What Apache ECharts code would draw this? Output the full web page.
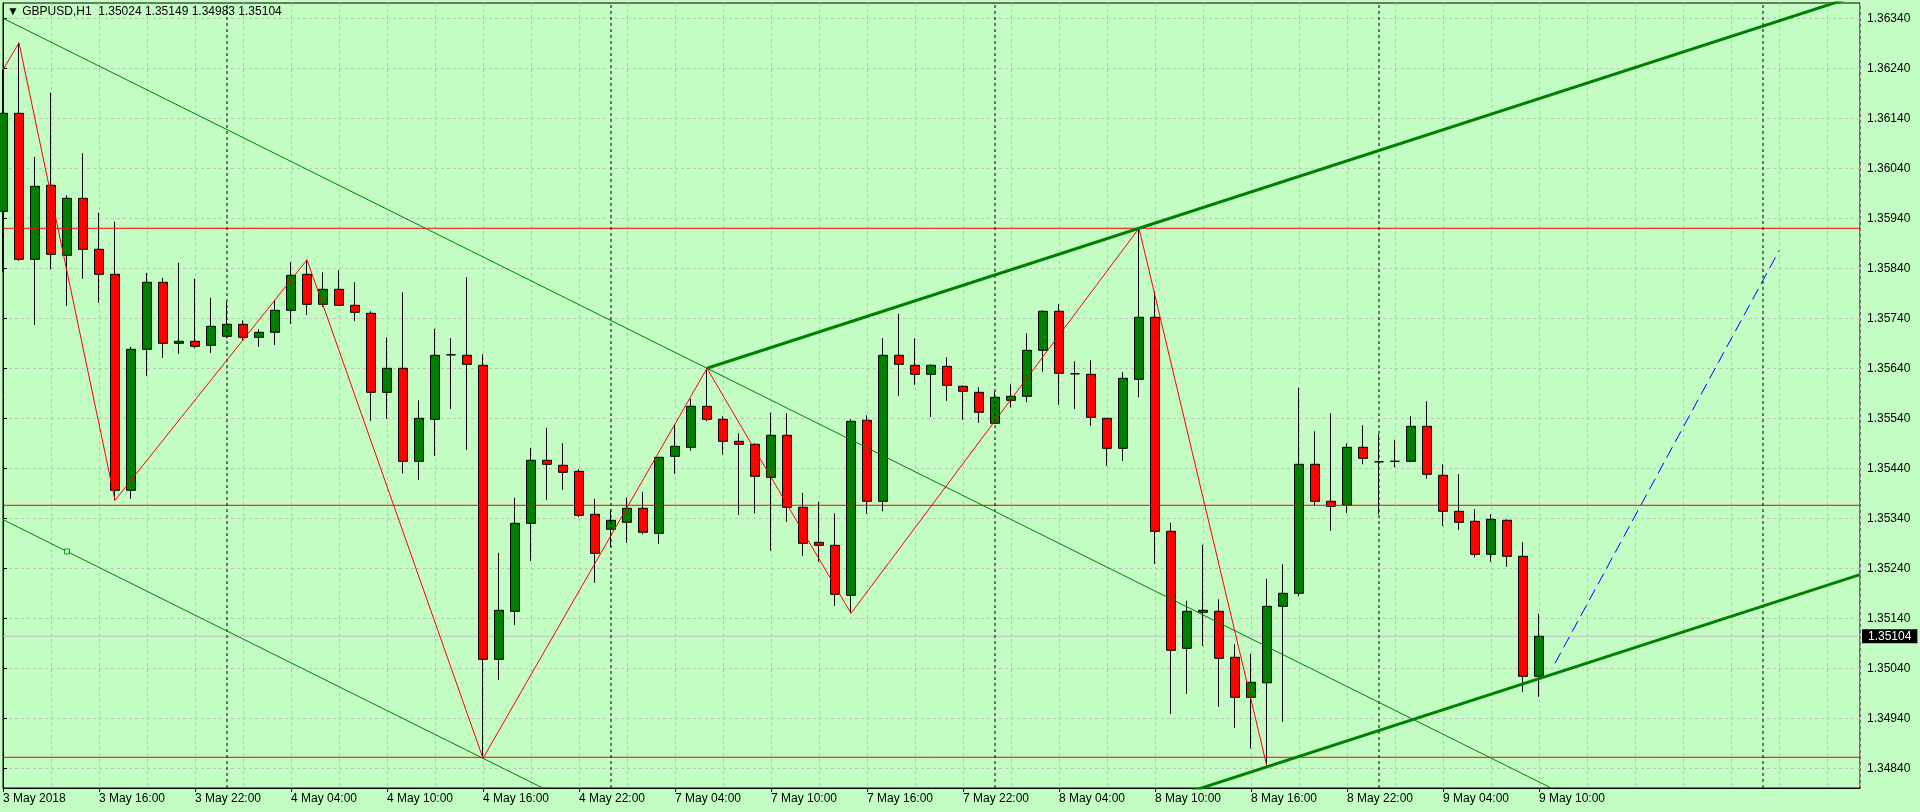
<!DOCTYPE html>
<html>
<head>
<meta charset="utf-8">
<script src="https://cdn.jsdelivr.net/npm/echarts@6/dist/echarts.min.js"></script>
<style>
html,body{margin:0;padding:0;background:#c4fdc4;}
#chart{width:1920px;height:812px;}
</style>
</head>
<body>
<div id="chart"></div>
<script>
// ---------------- DATA ----------------
const symbolName = 'GBPUSD,H1';

const barOpen = [1.35954,1.36150,1.35858,1.36006,1.35866,1.35980,1.35878,1.35828,1.35396,1.35678,
1.35812,1.35690,1.35694,1.35686,1.35704,1.35728,1.35702,1.35712,1.35756,1.35828,
1.35768,1.35798,1.35766,1.35750,1.35592,1.35640,1.35454,1.35538,1.35667,1.35666,
1.35646,1.35058,1.35154,1.35330,1.35456,1.35446,1.35434,1.35348,1.35318,1.35332,
1.35360,1.35310,1.35464,1.35482,1.35564,1.35538,1.35494,1.35488,1.35422,1.35506,
1.35362,1.35292,1.35286,1.35186,1.35536,1.35374,1.35666,1.35646,1.35628,1.35644,
1.35604,1.35592,1.35530,1.35576,1.35584,1.35676,1.35754,1.35629,1.35628,1.35540,
1.35480,1.35618,1.35742,1.35314,1.35080,1.35152,1.35154,1.35062,1.34982,1.35011,
1.35164,1.35190,1.35448,1.35374,1.35366,1.35482,1.35453,1.35454,1.35454,1.35524,
1.35426,1.35354,1.35334,1.35268,1.35336,1.35264,1.35024];

const barHigh = [1.36237,1.36291,1.36063,1.36191,1.35986,1.36070,1.35951,1.35933,1.35683,1.35831,
1.35821,1.35851,1.35819,1.35781,1.35773,1.35736,1.35718,1.35777,1.35852,1.35857,
1.35832,1.35836,1.35812,1.35754,1.35702,1.35792,1.35576,1.35719,1.35700,1.35822,
1.35668,1.35271,1.35381,1.35481,1.35521,1.35490,1.35438,1.35379,1.35357,1.35381,
1.35393,1.35462,1.35527,1.35579,1.35640,1.35544,1.35510,1.35490,1.35551,1.35550,
1.35391,1.35373,1.35350,1.35538,1.35546,1.35700,1.35749,1.35700,1.35648,1.35662,
1.35606,1.35602,1.35594,1.35608,1.35710,1.35756,1.35768,1.35654,1.35656,1.35540,
1.35632,1.35920,1.35794,1.35331,1.35175,1.35287,1.35178,1.35088,1.35069,1.35219,
1.35248,1.35601,1.35514,1.35550,1.35490,1.35526,1.35508,1.35497,1.35544,1.35574,
1.35448,1.35428,1.35358,1.35348,1.35338,1.35292,1.35149];

const barLow = [1.35833,1.35855,1.35727,1.35838,1.35765,1.35819,1.35771,1.35376,1.35379,1.35625,
1.35661,1.35669,1.35680,1.35671,1.35700,1.35696,1.35683,1.35687,1.35729,1.35747,
1.35763,1.35766,1.35735,1.35535,1.35539,1.35430,1.35417,1.35465,1.35559,1.35477,
1.34860,1.35017,1.35127,1.35255,1.35377,1.35397,1.35342,1.35211,1.35283,1.35291,
1.35308,1.35289,1.35429,1.35475,1.35534,1.35468,1.35347,1.35350,1.35275,1.35333,
1.35265,1.35253,1.35165,1.35150,1.35349,1.35354,1.35585,1.35607,1.35543,1.35575,
1.35537,1.35531,1.35530,1.35562,1.35572,1.35633,1.35567,1.35559,1.35525,1.35445,
1.35455,1.35582,1.35249,1.34949,1.34989,1.35085,1.34963,1.34921,1.34880,1.34843,
1.34933,1.35184,1.35366,1.35315,1.35351,1.35448,1.35348,1.35442,1.35454,1.35419,
1.35325,1.35317,1.35262,1.35253,1.35243,1.34993,1.34983];

const barClose = [1.36150,1.35858,1.36004,1.35868,1.35980,1.35878,1.35828,1.35396,1.35678,1.35812,
1.35690,1.35694,1.35684,1.35724,1.35728,1.35702,1.35712,1.35756,1.35826,1.35768,
1.35798,1.35766,1.35752,1.35592,1.35640,1.35454,1.35540,1.35666,1.35667,1.35648,
1.35058,1.35156,1.35330,1.35456,1.35448,1.35432,1.35346,1.35270,1.35336,1.35360,
1.35312,1.35462,1.35484,1.35564,1.35538,1.35494,1.35488,1.35424,1.35506,1.35362,
1.35290,1.35286,1.35188,1.35534,1.35374,1.35666,1.35648,1.35628,1.35646,1.35606,
1.35594,1.35552,1.35582,1.35584,1.35676,1.35754,1.35630,1.35629,1.35542,1.35480,
1.35620,1.35742,1.35314,1.35076,1.35154,1.35156,1.35060,1.34982,1.35012,1.35164,
1.35190,1.35448,1.35374,1.35364,1.35482,1.35460,1.35453,1.35454,1.35524,1.35428,
1.35354,1.35332,1.35268,1.35338,1.35264,1.35024,1.35104];

const tickBars = [0,6,12,18,24,30,36,42,48,54,60,66,72,78,84,90,96];
const tickLabels = ['3 May 2018','3 May 16:00','3 May 22:00','4 May 04:00','4 May 10:00','4 May 16:00',
  '4 May 22:00','7 May 04:00','7 May 10:00','7 May 16:00','7 May 22:00','8 May 04:00','8 May 10:00',
  '8 May 16:00','8 May 22:00','9 May 04:00','9 May 10:00'];
const priceTicks = [1.34840,1.34940,1.35040,1.35140,1.35240,1.35340,1.35440,1.35540,1.35640,
  1.35740,1.35840,1.35940,1.36040,1.36140,1.36240,1.36340];
const separatorBars = [14,38,62,86,110];
const levelPrices = [1.35920,1.35366,1.34862];
const bidPrice = 1.35104;

const zigzagBars   = [0,1,7,19,30,44,53,71,79];
const zigzagPrices = [1.36237,1.36291,1.35376,1.35857,1.34860,1.35640,1.35150,1.35920,1.34843];

const thickChannelBars = [44,71];
const thickChannelPrices = [1.35640,1.35920];
const thickParallelBar = 79;
const thickParallelPrice = 1.34843;

const thinChannelBars = [0,44];
const thinChannelPrices = [1.36340,1.35640];
const thinParallelBar = 30;
const thinParallelPrice = 1.34860;
const thinMarkerBar = 4;

const targetBars = [97,111];
const targetPrices = [1.35050,1.35875];

// ---------------- LAYOUT / STYLE ----------------
const BG = '#c4fdc4';
const GRIDC = '#c6bcc6';
const FONT = 'Liberation Sans';
const PLOT_L = 3, PLOT_R = 60, PLOT_T = 3, PLOT_B = 24;
const BAR_PX = 16;
const X_MIN = 0;
const X_MAX = (1920 - PLOT_L - PLOT_R) / BAR_PX;
const Y_MIN = 1.348006, Y_MAX = 1.363706;

function lineAt(bars, prices, x) {
  const k = (prices[1] - prices[0]) / (bars[1] - bars[0]);
  return prices[0] + k * (x - bars[0]);
}
function parallelAt(bars, prices, pb, pp, x) {
  const k = (prices[1] - prices[0]) / (bars[1] - bars[0]);
  return pp + k * (x - pb);
}

const candleData = barOpen.map((o, i) => [i, o, barClose[i], barLow[i], barHigh[i]]);

const thickUpper = [[thickChannelBars[0], thickChannelPrices[0]],
  [X_MAX, lineAt(thickChannelBars, thickChannelPrices, X_MAX)]];
const thickLower = [[thickChannelBars[0], parallelAt(thickChannelBars, thickChannelPrices, thickParallelBar, thickParallelPrice, thickChannelBars[0])],
  [X_MAX, parallelAt(thickChannelBars, thickChannelPrices, thickParallelBar, thickParallelPrice, X_MAX)]];
const thinUpper = [[thinChannelBars[0], thinChannelPrices[0]],
  [X_MAX, lineAt(thinChannelBars, thinChannelPrices, X_MAX)]];
const thinLower = [[thinChannelBars[0], parallelAt(thinChannelBars, thinChannelPrices, thinParallelBar, thinParallelPrice, thinChannelBars[0])],
  [X_MAX, parallelAt(thinChannelBars, thinChannelPrices, thinParallelBar, thinParallelPrice, X_MAX)]];
const thinMarker = [[thinMarkerBar, parallelAt(thinChannelBars, thinChannelPrices, thinParallelBar, thinParallelPrice, thinMarkerBar)]];

const last = barOpen.length - 1;
const headerText = '▼ ' + symbolName + '  ' +
  [barOpen[last], barHigh[last], barLow[last], barClose[last]].map(v => v.toFixed(5)).join(' ');

const lineSeries = (name, data, color, width, type, z) => ({
  name, type: 'line', data, xAxisIndex: 0, yAxisIndex: 0,
  symbol: 'none', silent: true, animation: false, clip: true, z,
  lineStyle: { color, width, type: type || 'solid' }
});

const levelSeries = levelPrices.map((p, i) =>
  lineSeries('level' + i, [[X_MIN, p], [X_MAX, p]], '#ff0000', 1, 'solid', 6));
const sepSeries = separatorBars.map((b, i) =>
  lineSeries('sep' + i, [[b, Y_MIN], [b, Y_MAX]], '#000', 1, [3, 3], 6));

const bidSeries = Object.assign(lineSeries('bid', [[X_MIN, bidPrice], [X_MAX, bidPrice]], '#c0c0c0', 1, 'solid', 1), {
  clip: false,
  endLabel: {
    show: true, formatter: () => bidPrice.toFixed(5), distance: 2,
    backgroundColor: '#000', color: '#fff', fontFamily: FONT, fontSize: 12,
    padding: [1, 6, 1, 6]
  }
});

const chart = echarts.init(document.getElementById('chart'), null, { renderer: 'canvas' });
chart.setOption({
  animation: false,
  backgroundColor: BG,
  title: {
    text: headerText, left: 7, top: 6, padding: 0,
    textStyle: { fontFamily: FONT, fontSize: 12, fontWeight: 'normal', color: '#000' }
  },
  grid: {
    left: PLOT_L, right: PLOT_R, top: PLOT_T, bottom: PLOT_B,
    show: true, borderColor: '#000', borderWidth: 1, backgroundColor: 'transparent'
  },
  xAxis: [{
    type: 'value', min: X_MIN, max: X_MAX, position: 'bottom',
    axisLine: { show: true, lineStyle: { color: '#000', width: 1 } },
    axisTick: { show: true, customValues: tickBars, length: 4, lineStyle: { color: '#000' } },
    axisLabel: {
      customValues: tickBars, align: 'left', margin: 5, color: '#000',
      fontFamily: FONT, fontSize: 12,
      formatter: v => { const i = tickBars.indexOf(Math.round(v)); return i >= 0 ? tickLabels[i] : ''; }
    },
    splitLine: { show: false }
  }, {
    type: 'value', min: X_MIN, max: X_MAX, interval: 3, position: 'bottom',
    axisLine: { show: false }, axisTick: { show: false }, axisLabel: { show: false },
    splitLine: { show: true, lineStyle: { color: GRIDC, width: 1, type: [3, 3] } }
  }],
  yAxis: [{
    type: 'value', position: 'right', min: Y_MIN, max: Y_MAX,
    axisLine: { show: true, lineStyle: { color: '#000' } },
    axisTick: { show: true, customValues: priceTicks, length: 4, lineStyle: { color: '#000' } },
    axisLabel: {
      customValues: priceTicks, margin: 7, color: '#000', fontFamily: FONT, fontSize: 12,
      formatter: v => v.toFixed(5)
    },
    splitLine: { show: true, lineStyle: { color: GRIDC, width: 1, type: [3, 3] } }
  }],
  series: [
    bidSeries,
    {
      name: 'price', type: 'candlestick', data: candleData, encode: { x: 0, y: [1, 2, 3, 4] },
      xAxisIndex: 0, yAxisIndex: 0, barWidth: 10, z: 3, silent: true, animation: false,
      itemStyle: {
        color: '#008000', color0: '#ff0000',
        borderColor: '#000', borderColor0: '#000', borderColorDoji: '#000', borderWidth: 1
      }
    },
    ...levelSeries,
    ...sepSeries,
    lineSeries('thin upper', thinUpper, '#008000', 1, 'solid', 7),
    lineSeries('thin lower', thinLower, '#008000', 1, 'solid', 7),
    lineSeries('zigzag', zigzagBars.map((b, i) => [b, zigzagPrices[i]]), '#ff0000', 1, 'solid', 8),
    lineSeries('thick upper', thickUpper, '#008000', 3, 'solid', 8),
    lineSeries('thick lower', thickLower, '#008000', 3, 'solid', 8),
    lineSeries('target', targetBars.map((b, i) => [b, targetPrices[i]]), '#0000ff', 1, [12, 6], 8),
    {
      name: 'anchor', type: 'scatter', data: thinMarker, xAxisIndex: 0, yAxisIndex: 0, z: 9,
      symbol: 'rect', symbolSize: 5, silent: true, animation: false,
      itemStyle: { color: BG, borderColor: '#008000', borderWidth: 1 }
    }
  ]
});
</script>
</body>
</html>
